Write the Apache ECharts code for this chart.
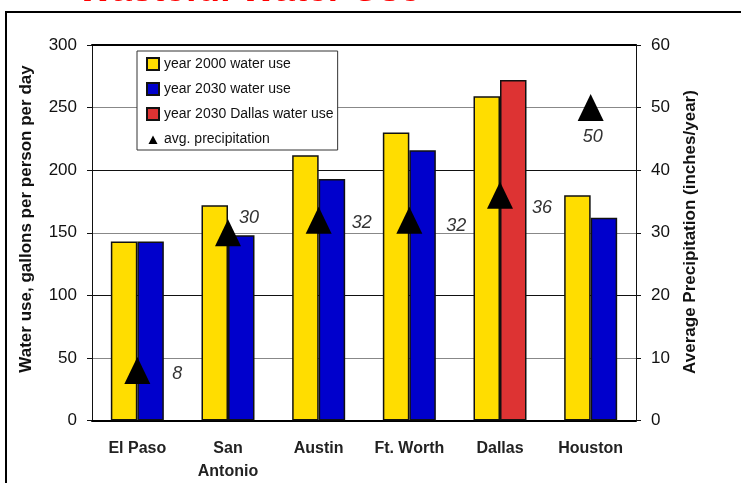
<!DOCTYPE html>
<html><head><meta charset="utf-8">
<script src="https://cdn.jsdelivr.net/npm/echarts@6/dist/echarts.min.js"></script>
<style>html,body{margin:0;padding:0;background:#fff}#c{width:741px;height:483px}</style>
</head><body><div id="c"></div>
<script>
const categories = ['El Paso', 'San\nAntonio', 'Austin', 'Ft. Worth', 'Dallas', 'Houston'];
const use2000 = [143, 172, 212, 230, 259, 180];
const use2030 = [143, 148, 193, 216, '-', 162];
const use2030Dallas = ['-', '-', '-', '-', 272, '-'];
const precipitation = [8, 30, 32, 32, 36, 50];
const seriesNames = ['year 2000 water use', 'year 2030 water use', 'year 2030 Dallas water use', 'avg. precipitation'];
const titleText = 'Wasteful Water Use';
const leftAxisName = 'Water use, gallons per person per day';
const rightAxisName = 'Average Precipitation (inches/year)';

// label placement (style, kept separate from values)
const precipLabelOffsets = [[40, 3.5], [21, -15], [43, 3], [47, 5.6], [42, 12.5], [2, 29]];

const FONT = '"Liberation Sans", Arial, Helvetica, sans-serif';
const chart = echarts.init(document.getElementById('c'), null, {renderer: 'canvas'});
const barBorder = {borderColor: '#111', borderWidth: 1.5};

chart.setOption({
  animation: false,
  backgroundColor: '#fff',
  textStyle: {fontFamily: FONT},
  grid: {left: 92, right: 105, top: 45, bottom: 60, containLabel: false},
  legend: {
    orient: 'vertical', left: 137, top: 51,
    padding: [6, 4, 4, 9], itemGap: 11, itemWidth: 12, itemHeight: 12, itemTextGap: 2.5,
    borderColor: '#333', borderWidth: 1, backgroundColor: '#fff', selectedMode: false,
    textStyle: {fontSize: 14, color: '#111', fontFamily: FONT},
    data: [
      {name: seriesNames[0], icon: 'rect'},
      {name: seriesNames[1], icon: 'rect'},
      {name: seriesNames[2], icon: 'rect'},
      {name: seriesNames[3], icon: 'path://M0,0 M12,12 M6,2.5 L10.5,11 L1.5,11 Z'}
    ]
  },
  xAxis: [
    {
      type: 'category', data: categories, position: 'bottom',
      axisLine: {lineStyle: {color: '#000', width: 2}},
      axisTick: {length: 7, lineStyle: {color: '#111'}},
      axisLabel: {interval: 0, margin: 16.5, fontSize: 16, fontWeight: 'bold', color: '#222', lineHeight: 23, fontFamily: FONT}
    },
    {
      type: 'category', data: categories, position: 'bottom',
      axisLine: {show: false},
      axisTick: {inside: true, length: 5, lineStyle: {color: '#111'}},
      axisLabel: {show: false}, splitLine: {show: false}
    },
    {
      type: 'category', data: categories, position: 'top',
      axisLine: {lineStyle: {color: '#000', width: 2}},
      axisTick: {show: false}, axisLabel: {show: false}, splitLine: {show: false}
    }
  ],
  yAxis: [
    {
      type: 'value', min: 0, max: 300, interval: 50, position: 'left',
      axisLine: {show: true, lineStyle: {color: '#111', width: 1}},
      axisTick: {show: true, length: 5, lineStyle: {color: '#111'}},
      axisLabel: {margin: 15, fontSize: 17, color: '#111', fontFamily: FONT},
      splitLine: {show: true, lineStyle: {color: ['#111', '#888'], width: 1}}
    },
    {
      type: 'value', min: 0, max: 60, interval: 10, position: 'right',
      axisLine: {show: true, lineStyle: {color: '#111', width: 1}},
      axisTick: {show: true, length: 5, lineStyle: {color: '#111'}},
      axisLabel: {margin: 15, fontSize: 17, color: '#111', fontFamily: FONT},
      splitLine: {show: false}
    }
  ],
  series: [
    {name: seriesNames[0], type: 'bar', data: use2000, barWidth: 26.5, barGap: '0%',
     itemStyle: Object.assign({color: '#FFDD00'}, barBorder)},
    {name: seriesNames[1], type: 'bar', stack: 's2030', data: use2030, barWidth: 26.5, barGap: '0%',
     itemStyle: Object.assign({color: '#0000CC'}, barBorder)},
    {name: seriesNames[2], type: 'bar', stack: 's2030', data: use2030Dallas, barWidth: 26.5, barGap: '0%',
     itemStyle: Object.assign({color: '#DD3333'}, barBorder)},
    {name: seriesNames[3], type: 'scatter', yAxisIndex: 1, symbol: 'triangle', symbolSize: [26, 27], z: 5,
     itemStyle: {color: '#000', opacity: 1},
     label: {show: true, position: 'inside', formatter: '{c}', fontStyle: 'italic', fontSize: 18, color: '#333', fontFamily: FONT},
     data: precipitation.map((v, i) => ({value: v, label: {offset: precipLabelOffsets[i]}}))}
  ],
  graphic: [
    {type: 'rect', silent: true, z: 100, shape: {x: 6, y: 12, width: 900, height: 700},
     style: {fill: 'none', stroke: '#000', lineWidth: 2}},
    {type: 'text', silent: true, x: 249, y: -9.5,
     style: {text: titleText, fill: '#FF0000', font: 'bold 37px ' + FONT, textAlign: 'center', textVerticalAlign: 'middle'}},
    {type: 'text', silent: true, x: 26, y: 219, rotation: Math.PI / 2,
     style: {text: leftAxisName, fill: '#111', font: 'bold 17px ' + FONT, textAlign: 'center', textVerticalAlign: 'middle'}},
    {type: 'text', silent: true, x: 690, y: 232, rotation: Math.PI / 2,
     style: {text: rightAxisName, fill: '#111', font: 'bold 17px ' + FONT, textAlign: 'center', textVerticalAlign: 'middle'}}
  ]
});
</script></body></html>
